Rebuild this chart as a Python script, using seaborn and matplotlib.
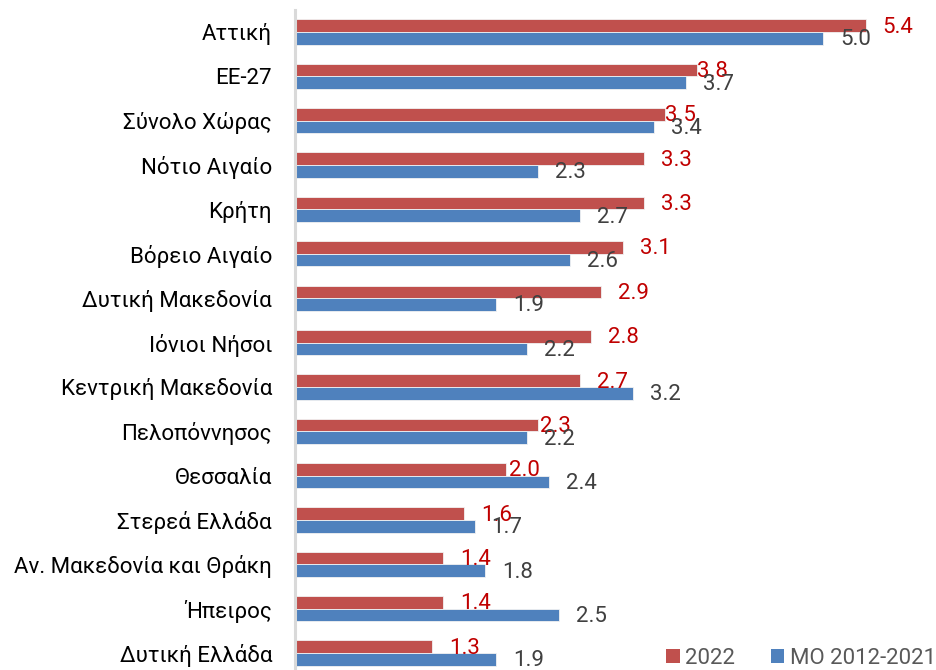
import matplotlib
matplotlib.use("Agg")
import matplotlib.pyplot as plt
import seaborn as sns
import pandas as pd
from matplotlib.patches import Patch

# Regional values
regions = [
    "Αττική", "ΕΕ-27", "Σύνολο Χώρας", "Νότιο Αιγαίο", "Κρήτη",
    "Βόρειο Αιγαίο", "Δυτική Μακεδονία", "Ιόνιοι Νήσοι", "Κεντρική Μακεδονία",
    "Πελοπόννησος", "Θεσσαλία", "Στερεά Ελλάδα", "Αν. Μακεδονία και Θράκη",
    "Ήπειρος", "Δυτική Ελλάδα",
]
values_2022 = [5.4, 3.8, 3.5, 3.3, 3.3, 3.1, 2.9, 2.8, 2.7, 2.3, 2.0, 1.6, 1.4, 1.4, 1.3]
values_avg = [5.0, 3.7, 3.4, 2.3, 2.7, 2.6, 1.9, 2.2, 3.2, 2.2, 2.4, 1.7, 1.8, 2.5, 1.9]
series_names = ["2022", "MO 2012-2021"]

# Styling
colors = {"2022": "#C0504D", "MO 2012-2021": "#4F81BD"}
label_colors = {"2022": "#C00000", "MO 2012-2021": "#404040"}
FONT = ["Roboto", "DejaVu Sans"]
FS = 16
# hand-placed labels for the 2022 series (shift in pixels)
label_shift_2022 = {"ΕΕ-27": -17, "Σύνολο Χώρας": -17, "Πελοπόννησος": -15, "Θεσσαλία": -14}

df = pd.DataFrame({
    "region": regions * 2,
    "value": values_2022 + values_avg,
    "series": [series_names[0]] * len(regions) + [series_names[1]] * len(regions),
})

sns.set_style("white")
plt.rcParams["font.family"] = FONT

DPI = 100
fig = plt.figure(figsize=(9.36, 6.70), dpi=DPI)
ax = fig.add_axes([295 / 936, 0.0, 634 / 936, 1 - 10 / 670])

sns.barplot(
    data=df, y="region", x="value", hue="series", order=regions,
    hue_order=series_names, palette=colors, saturation=1, orient="h",
    width=0.57, edgecolor="#F2F2F2", linewidth=0.6, ax=ax, legend=False,
)

ax.set_xlim(0, 6.0)
ax.set_ylim((670 - 32) / 44.36, -10 / 44.36 - 0.27)
ax.set_xlabel("")
ax.set_ylabel("")
ax.set_xticks([])
for s in ["top", "right", "bottom"]:
    ax.spines[s].set_visible(False)
ax.spines["left"].set_color("#D9D9D9")
ax.spines["left"].set_linewidth(2.2)
ax.tick_params(axis="y", length=0, pad=16.5, labelsize=FS, labelcolor="#000000")
for t in ax.get_yticklabels():
    t.set_family(FONT)

px = 72 / DPI
series_values = {"2022": values_2022, "MO 2012-2021": values_avg}
for container, name in zip(ax.containers, series_names):
    vals = series_values[name]
    for bar in container:
        idx = int(round(bar.get_y() + bar.get_height() / 2))
        v = vals[idx]
        shift = label_shift_2022.get(regions[idx], 0) if name == "2022" else 0
        ax.annotate(
            f"{v:.1f}", xy=(v, bar.get_y() + bar.get_height() / 2),
            xytext=((17 + shift) * px, -1.5 * px), textcoords="offset points",
            ha="left", va="center", fontsize=FS, color=label_colors[name],
            family=FONT, annotation_clip=False,
        )

handles = [Patch(facecolor=colors[n], edgecolor="none") for n in series_names]
fig.legend(
    handles, series_names, loc="lower right", bbox_to_anchor=(1.014, -0.018),
    ncol=2, frameon=False, fontsize=FS, labelcolor="#595959",
    handlelength=0.6, handleheight=0.6, handletextpad=0.25, columnspacing=1.6,
    borderaxespad=0.2,
)

fig.savefig("out.png", dpi=DPI)
